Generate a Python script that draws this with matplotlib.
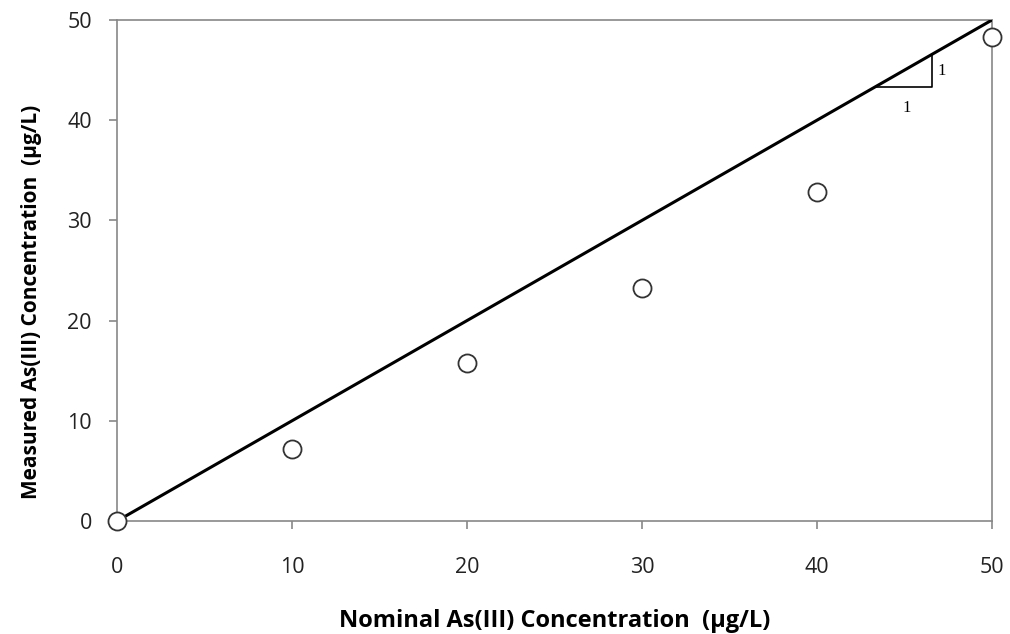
import matplotlib
matplotlib.use("Agg")
import matplotlib.pyplot as plt

nominal = [0, 10, 20, 30, 40, 50]
measured = [0.0, 7.2, 15.8, 23.3, 32.8, 48.3]
line_x = [0, 50]
line_y = [0, 50]
tri_x = [43.3, 46.6, 46.6]
tri_y = [43.3, 43.3, 46.6]
ticks = [0, 10, 20, 30, 40, 50]

plt.rcParams['font.family'] = ['Open Sans', 'DejaVu Sans']

fig = plt.figure(figsize=(10.1, 6.34), dpi=100)
ax = fig.add_axes([0.1158, 0.1782, 0.8663, 0.7902])

ax.plot(line_x, line_y, color='black', lw=2.2, zorder=3)
ax.plot(tri_x, tri_y, color='black', lw=1.2, zorder=3)
ax.text(46.9, 44.9, '1', fontsize=12, family='Liberation Serif', va='center', ha='left')
ax.text(45.1, 41.2, '1', fontsize=12, family='Liberation Serif', va='center', ha='center')
ax.plot(nominal, measured, 'o', mfc='white', mec='#333333', mew=1.3, ms=13, zorder=4,
        clip_on=False)

ax.set_xlim(0, 50)
ax.set_ylim(0, 50)
ax.set_xticks(ticks)
ax.set_yticks(ticks)
ax.tick_params(length=6, width=1.2, color='#888888', labelsize=15.5, labelcolor='#222222')
ax.tick_params(axis='x', pad=20)
ax.tick_params(axis='y', pad=12)
for s in ax.spines.values():
    s.set_color('#888888')
    s.set_linewidth(1.2)

ax.set_xlabel('Nominal As(III) Concentration  (µg/L)', fontsize=17, fontweight='bold', labelpad=22)
ax.set_ylabel('Measured As(III) Concentration  (µg/L)', fontsize=15, fontweight='bold',
              labelpad=18, y=0.437)

fig.savefig('out.png', dpi=100)
